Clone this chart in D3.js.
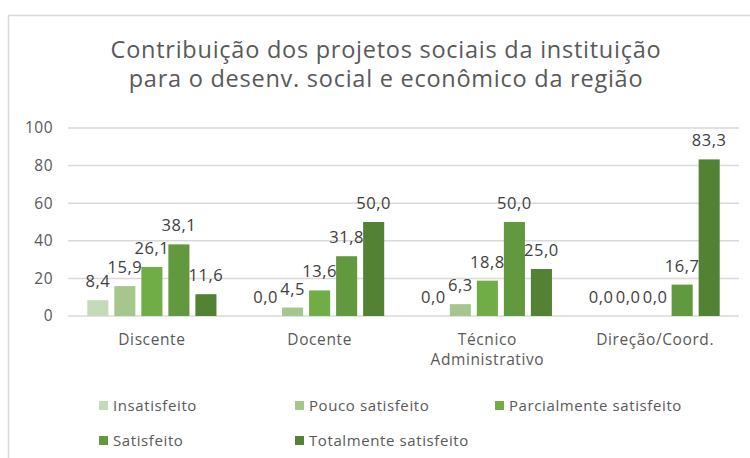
<!DOCTYPE html>
<html>
<head>
<meta charset="utf-8">
<script src="https://cdn.jsdelivr.net/npm/d3@7"></script>
<style>
  html, body { margin: 0; padding: 0; background: #fff; }
  svg { display: block; font-family: "Open Sans", Lato, sans-serif; }
</style>
</head>
<body>
<svg id="chart" width="750" height="458"></svg>
<script>
// Respondent groups and satisfaction levels
const categories = ["Discente", "Docente", "Técnico\nAdministrativo", "Direção/Coord."];
const seriesNames = ["Insatisfeito", "Pouco satisfeito", "Parcialmente satisfeito", "Satisfeito", "Totalmente satisfeito"];
const insatisfeito = [8.4, 0.0, 0.0, 0.0];
const poucoSatisfeito = [15.9, 4.5, 6.3, 0.0];
const parcialmenteSatisfeito = [26.1, 13.6, 18.8, 0.0];
const satisfeito = [38.1, 31.8, 50.0, 16.7];
const totalmenteSatisfeito = [11.6, 50.0, 25.0, 83.3];
const yTicks = [0, 20, 40, 60, 80, 100];
const titleLines = ["Contribuição dos projetos sociais da instituição", "para o desenv. social e econômico da região"];

const seriesValues = [insatisfeito, poucoSatisfeito, parcialmenteSatisfeito, satisfeito, totalmenteSatisfeito];
const colors = ["#c5dab8", "#a5c78e", "#70ad47", "#62993e", "#548235"];
const textColor = "#595959";
const font = "'Open Sans', Lato, sans-serif";

const svg = d3.select("#chart");

// chart frame
svg.append("rect")
  .attr("x", 8.5).attr("y", 15.5)
  .attr("width", 760).attr("height", 460)
  .attr("fill", "#fff").attr("stroke", "#d9d9d9").attr("stroke-width", 1.5);

// title
svg.append("g").selectAll("text").data(titleLines).join("text")
  .attr("x", 386).attr("y", (d, i) => 58 + i * 29)
  .attr("text-anchor", "middle")
  .attr("fill", textColor)
  .style("font-size", "23.5px")
  .style("letter-spacing", "0.75px")
  .text(d => d);

const plot = { left: 68, right: 739, top: 128, bottom: 316 };

const x0 = d3.scaleBand().domain(categories).range([plot.left, plot.right]).paddingInner(0.23).paddingOuter(0.115);
const x1 = d3.scaleBand().domain(seriesNames).range([0, x0.bandwidth()]).paddingInner(0.22).paddingOuter(0);
const y = d3.scaleLinear().domain([0, 100]).range([plot.bottom, plot.top]);

// gridlines
svg.append("g").selectAll("line").data(yTicks).join("line")
  .attr("x1", plot.left).attr("x2", plot.right)
  .attr("y1", d => y(d)).attr("y2", d => y(d))
  .attr("stroke", "#d9d9d9").attr("stroke-width", 1.5);

// y axis
const yAxis = svg.append("g")
  .attr("transform", `translate(${plot.left - 15},0)`)
  .call(d3.axisLeft(y).tickValues(yTicks).tickSize(0).tickPadding(0));
yAxis.select(".domain").remove();
yAxis.selectAll("text").attr("fill", textColor)
  .style("font-size", "15.5px").style("letter-spacing", "0.5px").style("font-family", font);

// x axis labels
const xAxis = svg.append("g")
  .attr("transform", `translate(0,${plot.bottom})`)
  .call(d3.axisBottom(x0).tickSize(0).tickFormat(""));
xAxis.select(".domain").remove();
xAxis.selectAll(".tick").each(function(d) {
  const t = d3.select(this).append("text")
    .attr("fill", textColor).attr("text-anchor", "middle")
    .style("font-size", "15.5px").style("letter-spacing", "0.6px").style("font-family", font);
  d.split("\n").forEach((line, i) => {
    t.append("tspan").attr("x", 0).attr("y", 29 + i * 20).text(line);
  });
});

// bars
const fmt = v => v.toFixed(1).replace(".", ",");
const groups = svg.append("g").selectAll("g").data(categories).join("g")
  .attr("transform", d => `translate(${x0(d)},0)`);

groups.each(function(cat, ci) {
  const g = d3.select(this);
  const rows = seriesNames.map((s, si) => ({ s, si, v: seriesValues[si][ci] }));
  g.selectAll("rect").data(rows).join("rect")
    .attr("x", d => x1(d.s)).attr("width", x1.bandwidth())
    .attr("y", d => y(d.v)).attr("height", d => y(0) - y(d.v))
    .attr("fill", d => colors[d.si]);
  g.selectAll("text").data(rows).join("text")
    .attr("x", d => x1(d.s) + x1.bandwidth() / 2)
    .attr("y", d => y(d.v) - 13)
    .attr("text-anchor", "middle")
    .attr("fill", "#404040")
    .style("font-size", "16.5px")
    .style("letter-spacing", "0.5px")
    .text(d => fmt(d.v));
});

// legend
const legendItems = [
  { name: seriesNames[0], x: 99, y: 401 },
  { name: seriesNames[1], x: 295, y: 401 },
  { name: seriesNames[2], x: 495, y: 401 },
  { name: seriesNames[3], x: 99, y: 436 },
  { name: seriesNames[4], x: 295, y: 436 }
];
const lg = svg.append("g").selectAll("g").data(legendItems).join("g")
  .attr("transform", d => `translate(${d.x},${d.y})`);
lg.append("rect").attr("width", 9).attr("height", 9)
  .attr("fill", (d, i) => colors[i]);
lg.append("text").attr("x", 14).attr("y", 10)
  .attr("fill", textColor).style("font-size", "15px").style("letter-spacing", "0.6px")
  .text(d => d.name);
</script>
</body>
</html>
